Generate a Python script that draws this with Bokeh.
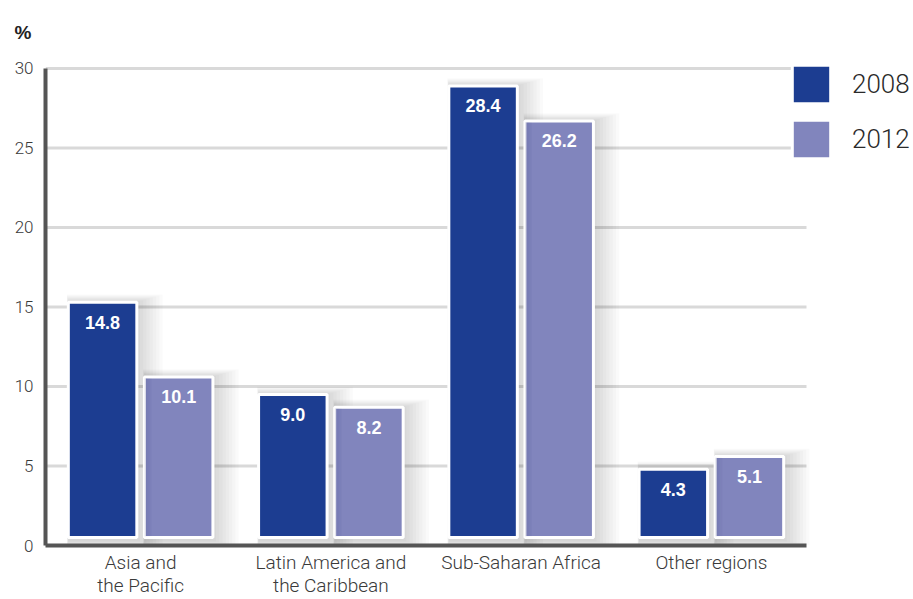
from bokeh.plotting import figure
from bokeh.models import Range1d, FixedTicker, ColumnDataSource, Legend, LegendItem
from bokeh.core.properties import value
from bokeh.embed import file_html
from bokeh.resources import INLINE

# Share of population (%) by region
regions = ["Asia and\nthe Pacific", "Latin America and\nthe Caribbean",
           "Sub-Saharan Africa", "Other regions"]
values_2008 = [14.8, 9.0, 28.4, 4.3]
values_2012 = [10.1, 8.2, 26.2, 5.1]
y_ticks = [0, 5, 10, 15, 20, 25, 30]

DARK = "#1c3d91"
LIGHT = "#8185bd"
AXIS = "#555555"
TEXT = "#3a3a3a"
LIGHT_FONT = "Roboto Light"

n = len(regions)
centers = [i + 0.5 for i in range(n)]
offset = 0.2
bar_w = 0.36

# the plotting area extends right of the last group to leave room for the legend
X_END = 4.5624
Y_END = 31.63

p = figure(width=913, height=599, x_range=Range1d(0, X_END), y_range=Range1d(0, Y_END),
           min_border_left=45, min_border_right=0, min_border_top=42,
           min_border_bottom=0, output_backend="svg", toolbar_location=None,
           title="%")
p.outline_line_color = None
p.background_fill_color = "white"
p.title.text_font = "Liberation Sans"
p.title.text_font_style = "bold"
p.title.text_font_size = "19px"
p.title.text_color = "#222222"
p.title.align = "left"
p.title.offset = -31
p.title.standoff = 0

# bars sit on a slightly raised baseline above the axis line
p.extra_y_ranges = {"bars": Range1d(-0.5, Y_END - 0.5)}

# horizontal guide lines across the category area
grid_y = y_ticks[1:]
p.segment(x0=[0] * len(grid_y), x1=[n] * len(grid_y), y0=grid_y, y1=grid_y,
          line_color="#d9d9d9", line_width=3)

x08 = [c - offset for c in centers]
x12 = [c + offset for c in centers]
src08 = ColumnDataSource(dict(x=x08, top=values_2008,
                              label=[f"{v:.1f}" for v in values_2008]))
src12 = ColumnDataSource(dict(x=x12, top=values_2012,
                              label=[f"{v:.1f}" for v in values_2012]))

# soft drop shadow behind each bar
for k in range(1, 9):
    for xs, tops in ((x08, values_2008), (x12, values_2012)):
        p.vbar(x=[x + 0.008 * k for x in xs], top=[t + 0.06 * k for t in tops],
               bottom=-0.2 - 0.05 * k, width=bar_w + 0.018 * k,
               fill_color="black", fill_alpha=0.02, line_color=None,
               y_range_name="bars")

r08 = p.vbar(x="x", top="top", bottom=0, width=bar_w, source=src08,
             fill_color=DARK, line_color="white", line_width=3, y_range_name="bars")
r12 = p.vbar(x="x", top="top", bottom=0, width=bar_w, source=src12,
             fill_color=LIGHT, line_color="white", line_width=3, y_range_name="bars")

# darker shading along the left edge of the light bars
for k in range(6):
    p.vbar(x=[x - bar_w / 2 + 0.004 + 0.006 * k for x in x12],
           top=[t - 0.08 for t in values_2012], bottom=0.08, width=0.006,
           fill_color="#3a3f7a", fill_alpha=0.16 - 0.025 * k, line_color=None,
           y_range_name="bars")

for src in (src08, src12):
    p.text(x="x", y="top", text="label", source=src, y_range_name="bars",
           text_align="center", text_baseline="middle", y_offset=20,
           text_color="white", text_font=value("Liberation Sans"),
           text_font_style="bold", text_font_size="18px")

# axes
p.yaxis.ticker = FixedTicker(ticks=y_ticks)
p.yaxis.bounds = (0, 30)
p.yaxis.axis_line_color = AXIS
p.yaxis.axis_line_width = 4
p.yaxis.major_tick_line_color = None
p.yaxis.minor_tick_line_color = None
p.yaxis.major_tick_out = 0
p.yaxis.major_tick_in = 0
p.yaxis.major_label_standoff = 12
p.yaxis.major_label_text_font = LIGHT_FONT
p.yaxis.major_label_text_font_size = "17px"
p.yaxis.major_label_text_color = TEXT

p.xaxis.ticker = FixedTicker(ticks=centers)
p.xaxis.bounds = (0, n)
p.xaxis.major_label_overrides = {c: r for c, r in zip(centers, regions)}
p.xaxis.axis_line_color = AXIS
p.xaxis.axis_line_width = 4
p.xaxis.major_tick_line_color = None
p.xaxis.minor_tick_line_color = None
p.xaxis.major_tick_out = 0
p.xaxis.major_tick_in = 0
p.xaxis.major_label_standoff = 5
p.xaxis.major_label_text_font = LIGHT_FONT
p.xaxis.major_label_text_font_size = "19px"
p.xaxis.major_label_text_line_height = 1.0
p.xaxis.major_label_text_color = TEXT

p.xgrid.grid_line_color = None
p.ygrid.grid_line_color = None

legend = Legend(items=[LegendItem(label="2008", renderers=[r08]),
                       LegendItem(label="2012", renderers=[r12])],
                location=(742, 382), orientation="vertical",
                glyph_width=48, glyph_height=48, label_height=48, spacing=7,
                label_standoff=17, padding=0, margin=0,
                border_line_color=None, background_fill_alpha=0,
                label_text_font=LIGHT_FONT, label_text_font_size="26px",
                label_text_color="#2a2a2a")
p.add_layout(legend)

open("out.html", "w").write(file_html(p, INLINE))
